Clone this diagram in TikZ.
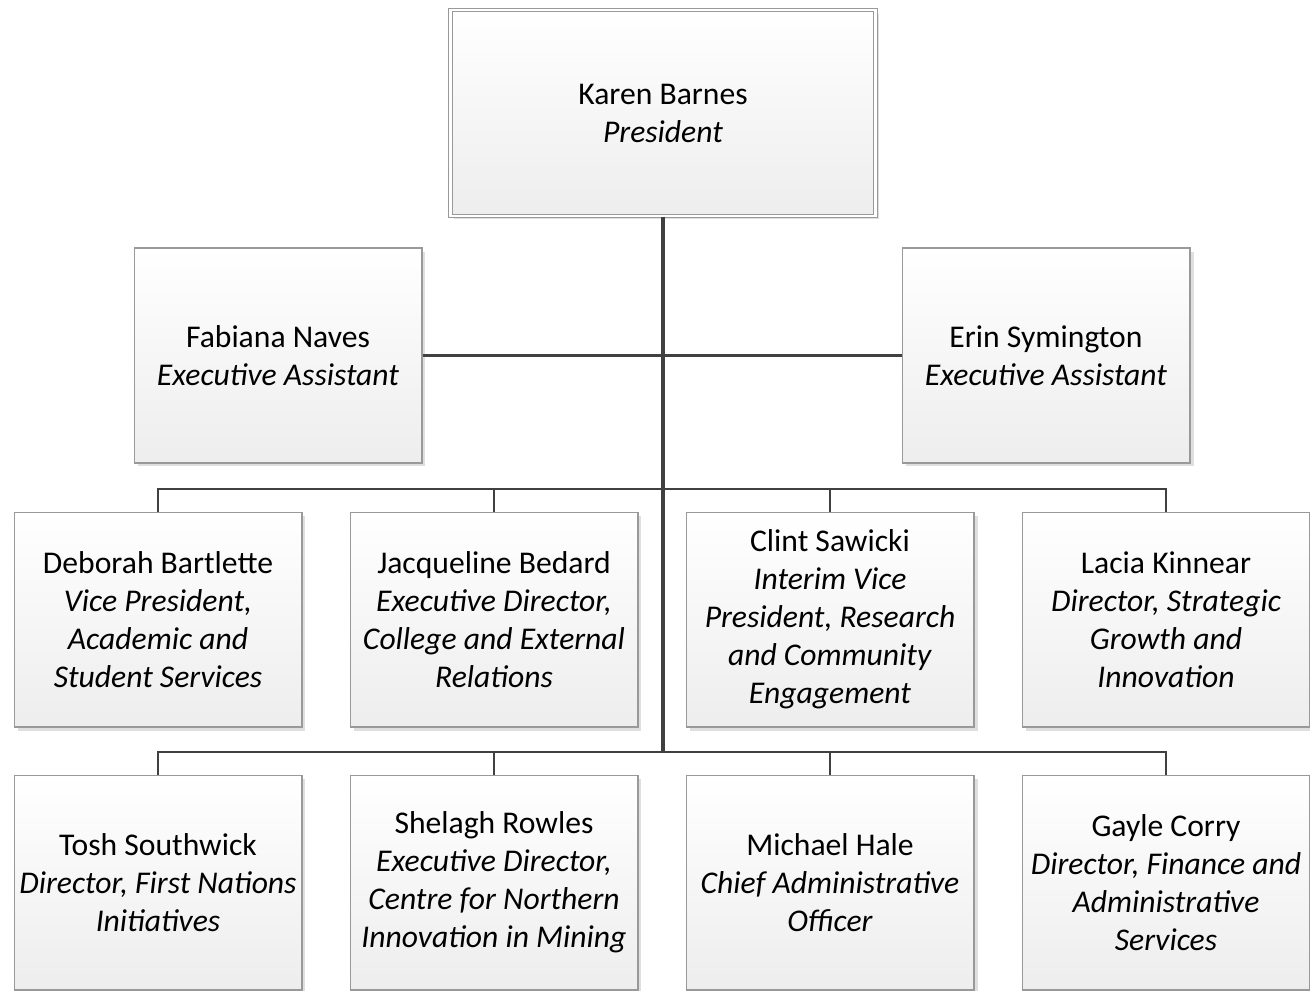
\documentclass[tikz,border=0pt]{standalone}
\usepackage{fontspec}
\setmainfont{Carlito}
\usetikzlibrary{shadows}

\begin{document}
\begin{tikzpicture}[x=0.02cm, y=-0.02cm,
    orgbox/.style={draw=gray!80, line width=0.6pt, top color=white,
      bottom color=gray!14, drop shadow={shadow xshift=2pt, shadow yshift=-2pt,
      opacity=0.25}, minimum width=5.76cm, minimum height=4.3cm,
      align=center, inner sep=0pt,
      font=\fontsize{18}{21.6}\selectfont},
    link/.style={draw=black!75, line width=1.2pt},
    trunk/.style={draw=black!75, line width=2.2pt}]

      \useasboundingbox (0,0) rectangle (1310,990);

      % president on top, double border
      \node [orgbox, double=white, double distance=1.2pt, minimum width=8.5cm,
      minimum height=4.12cm, name=pres] at (663,113)
      {Karen Barnes\\\textit{President}};

      % assistants
      \node [orgbox, name=fab] at (278,355.5)
      {Fabiana Naves\\\textit{Executive Assistant}};
      \node [orgbox, name=erin] at (1046,355.5)
      {Erin Symington\\\textit{Executive Assistant}};

      % first row
      \node [orgbox, name=deb] at (158,619.5)
      {Deborah Bartlette\\\textit{Vice President,}\\\textit{Academic and}\\
      \textit{Student Services}};
      \node [orgbox, name=jac] at (494,619.5)
      {Jacqueline Bedard\\\textit{Executive Director,}\\
      \textit{College and External}\\\textit{Relations}};
      \node [orgbox, name=cli] at (830,619.5)
      {Clint Sawicki\\\textit{Interim Vice}\\\textit{President, Research}\\
      \textit{and Community}\\\textit{Engagement}};
      \node [orgbox, name=lac] at (1166,619.5)
      {Lacia Kinnear\\\textit{Director, Strategic}\\\textit{Growth and}\\
      \textit{Innovation}};

      % second row
      \node [orgbox, name=tos] at (158,882.5)
      {Tosh Southwick\\\textit{Director, First Nations}\\\textit{Initiatives}};
      \node [orgbox, name=she] at (494,882.5)
      {Shelagh Rowles\\\textit{Executive Director,}\\
      \textit{Centre for Northern}\\\textit{Innovation in Mining}};
      \node [orgbox, name=mic] at (830,882.5)
      {Michael Hale\\\textit{Chief Administrative}\\\textit{Officer}};
      \node [orgbox, name=gay] at (1166,882.5)
      {Gayle Corry\\\textit{Director, Finance and}\\\textit{Administrative}\\
      \textit{Services}};

      \coordinate (bus1) at (663,489);
      \coordinate (bus2) at (663,752);

      % connectors
      \draw [link] (fab.east) -- (erin.west);
      \draw [link] (deb.north) |- (lac.north |- bus1) -- (lac.north);
      \draw [link] (jac.north) -- (jac.north |- bus1);
      \draw [link] (cli.north) -- (cli.north |- bus1);
      \draw [link] (tos.north) |- (gay.north |- bus2) -- (gay.north);
      \draw [link] (she.north) -- (she.north |- bus2);
      \draw [link] (mic.north) -- (mic.north |- bus2);
      \draw [trunk] (pres.south) -- (bus2);
\end{tikzpicture}
\end{document}
